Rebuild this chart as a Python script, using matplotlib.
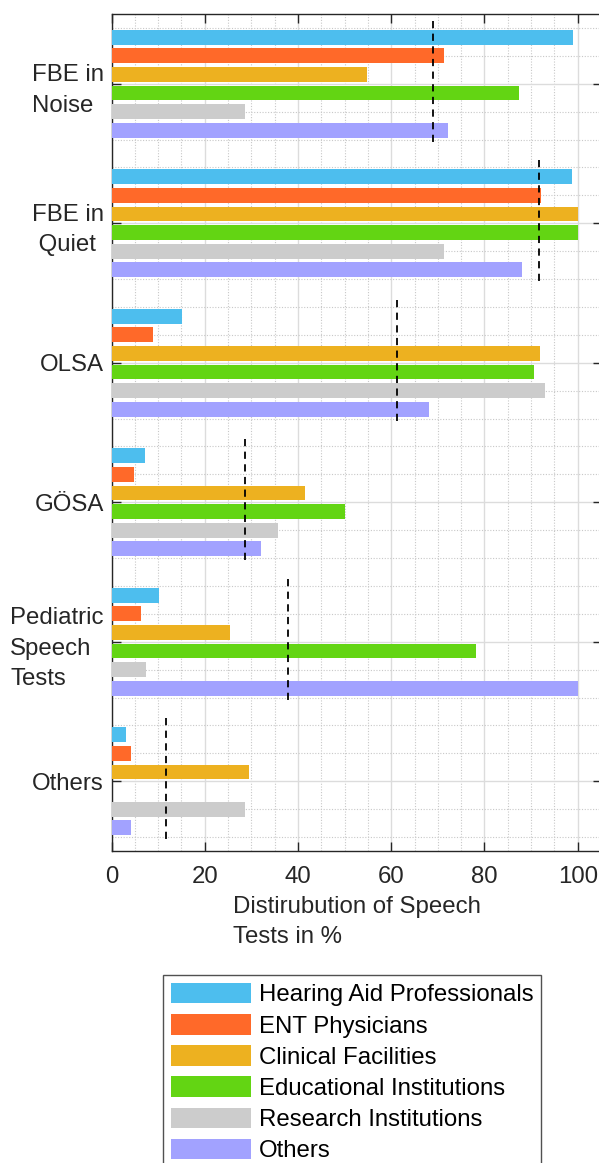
import numpy as np
import matplotlib
matplotlib.use("Agg")
import matplotlib.pyplot as plt
from matplotlib.ticker import MultipleLocator

plt.rcParams['font.family'] = ['Liberation Sans', 'DejaVu Sans']

# test categories, top to bottom
categories = ['FBE in\nNoise', 'FBE in\n Quiet', 'OLSA', 'GÖSA',
              'Pediatric\nSpeech\nTests', 'Others']

# share (%) per user group
hearing_aid = [98.9, 98.8, 15.1, 7.1, 10.2, 3.2]
ent = [71.4, 92.1, 8.9, 4.9, 6.3, 4.1]
clinical = [54.8, 100.0, 92.0, 41.4, 25.4, 29.4]
educational = [87.5, 100.0, 90.6, 50.1, 78.1, 0.0]
research = [28.7, 71.4, 92.9, 35.8, 7.3, 28.7]
others = [72.1, 88.1, 68.1, 32.1, 100.0, 4.1]

series_names = ['Hearing Aid Professionals', 'ENT Physicians', 'Clinical Facilities',
                'Educational Institutions', 'Research Institutions', 'Others']
colors = ['#4DBEEE', '#FF6929', '#EDB120', '#63D513', '#CCCCCC', '#A2A2FF']
series = [hearing_aid, ent, clinical, educational, research, others]

fig = plt.figure(figsize=(5.99, 11.63), dpi=100)
ax = fig.add_axes([111.5 / 599, 1 - 851 / 1163, (601.5 - 111.5) / 599, (851 - 14) / 1163])

pos = np.arange(1, len(categories) + 1)
n = len(series)
step = 0.8 / n
for i, (vals, c, name) in enumerate(zip(series, colors, series_names)):
    ax.barh(pos + (i - (n - 1) / 2) * step, vals, height=step * 0.8,
            color=c, edgecolor='none', label=name, zorder=3)

# mean line per category
means = np.mean(np.array(series), axis=0)
for p, m in zip(pos, means):
    ax.plot([m, m], [p - 0.45, p + 0.45], color='black', lw=1.3,
            linestyle=(0, (4, 3)), zorder=4)

ax.set_xlim(0, 105.1)
ax.set_ylim(6.5, 0.5)
ax.set_xticks([0, 20, 40, 60, 80, 100])
ax.set_yticks(pos)
ax.set_yticklabels(categories)
for lab in ax.get_yticklabels():
    lab.set_multialignment('left')
    lab.set_linespacing(1.5)
ax.xaxis.set_minor_locator(MultipleLocator(5))
ax.yaxis.set_minor_locator(MultipleLocator(0.2))

ax.grid(True, which='major', color='#dcdcdc', lw=1.0, zorder=0)
ax.grid(True, which='minor', color='#c8c8c8', lw=0.8, linestyle=(0, (1, 1.5)), zorder=0)
ax.set_axisbelow(True)

ax.tick_params(which='major', direction='in', length=6.5, width=1.0, color='#262626',
               labelsize=17.3, labelcolor='#262626', top=True, right=True)
ax.tick_params(axis='x', pad=10.5)
ax.tick_params(axis='y', pad=5.5)
ax.tick_params(which='minor', length=0)
for s in ax.spines.values():
    s.set_color('#262626')
    s.set_linewidth(1.0)

ax.set_xlabel('Distirubution of Speech\nTests in %', fontsize=17.3, color='#262626',
              multialignment='left', linespacing=1.5, labelpad=6)

fig.legend(loc='upper left', bbox_to_anchor=(163 / 599, 1 - 975 / 1163),
           fontsize=17.3, frameon=True, fancybox=False, edgecolor='#262626',
           handlelength=3.35, handleheight=0.93, handletextpad=0.3,
           labelspacing=0.32, borderpad=0.33, borderaxespad=0)

fig.savefig('out.png', dpi=100)
